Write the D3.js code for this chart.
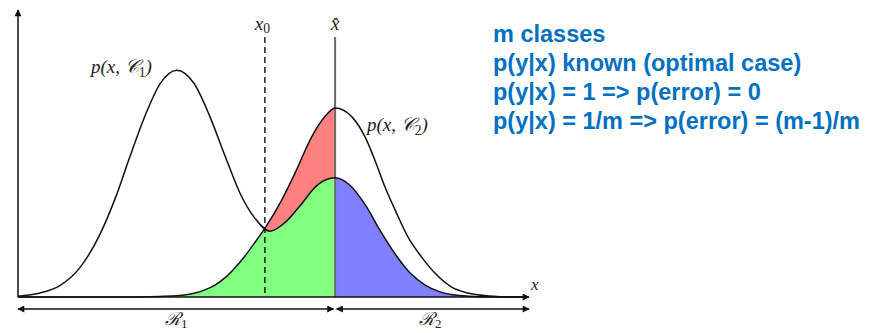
<!DOCTYPE html>
<html lang="en">
<head>
  <meta charset="UTF-8">
  <title>Decision regions</title>
  <script src="https://d3js.org/d3.v7.min.js"></script>
  <style>
    body { margin: 0; background: #fff; }
    .curve { fill: none; stroke: #111; stroke-width: 1.5; }
    .math { font-family: "Liberation Serif", "DejaVu Serif", serif; font-style: italic; fill: #222; }
    .note { font-family: "Liberation Sans", Arial, sans-serif; font-weight: bold; fill: #0070C0; font-size: 23.5px; }
  </style>
</head>
<body>
  <div id="chart"></div>
  <script>
    // p(x,C1) (x: 0-100, y: 0-100)
    const c1X = [0, 4.3, 8.3, 12.2, 16.1, 19.1, 22.0, 25.0, 27.9, 31.2, 34.6, 37.7, 40.7, 43.6, 46.6, 49.5, 52.5, 55.4, 58.9, 62.3, 65.2, 68.2, 71.1, 74.1, 77.0, 80.0, 82.9, 86.8, 90.8, 100];
    const c1Y = [0.3, 1.4, 4.1, 10.4, 22.0, 34.6, 49.3, 63.8, 74.8, 79.6, 74.9, 63.3, 49.4, 36.5, 27.5, 23.1, 26.2, 32.0, 39.4, 41.8, 39.2, 32.4, 23.5, 15.1, 8.5, 4.2, 1.8, 0.5, 0.1, 0];
    // p(x,C2)
    const c2X = [0, 20.0, 27.9, 31.8, 34.8, 36.7, 38.7, 40.7, 42.6, 44.6, 46.6, 48.5, 51.8, 54.4, 57.7, 60.3, 62.3, 65.6, 68.2, 70.1, 72.1, 74.1, 76.6, 79.3, 81.9, 85.2, 88.4, 92.7, 96.7, 100];
    const c2Y = [0, 0, 0.2, 0.5, 1.4, 2.5, 4.2, 6.8, 10.2, 14.4, 19.3, 24.1, 34.0, 43.4, 56.2, 63.3, 66.3, 63.2, 56.1, 48.1, 38.6, 30.5, 21.1, 14.0, 8.4, 3.5, 1.4, 0.35, 0, 0];
    const x0 = 48.5;
    const xHat = 62.3;
    const notes = [
      "m classes",
      "p(y|x) known (optimal case)",
      "p(y|x) = 1 => p(error) = 0",
      "p(y|x) = 1/m => p(error) = (m-1)/m"
    ];

    const width = 870, height = 333;
    const svg = d3.select("#chart").append("svg")
      .attr("width", width).attr("height", height);

    const x = d3.scaleLinear().domain([0, 100]).range([18, 527]);
    const y = d3.scaleLinear().domain([0, 100]).range([297, 12]);

    const c1 = c1X.map((d, i) => [d, c1Y[i]]);
    const c2 = c2X.map((d, i) => [d, c2Y[i]]);

    const defs = svg.append("defs");
    defs.append("marker")
      .attr("id", "arrow")
      .attr("viewBox", "0 0 10 10")
      .attr("refX", 9).attr("refY", 5)
      .attr("markerWidth", 9).attr("markerHeight", 7)
      .attr("markerUnits", "userSpaceOnUse")
      .attr("orient", "auto-start-reverse")
      .append("path").attr("d", "M0,0 L10,5 L0,10 Z").attr("fill", "#111");

    function clip(id, a, b) {
      defs.append("clipPath").attr("id", id)
        .append("rect")
        .attr("x", x(a)).attr("y", 0)
        .attr("width", x(b) - x(a)).attr("height", y(0));
    }
    clip("left", 0, x0);
    clip("mid", x0, xHat);
    clip("right", xHat, 100);

    const area = d3.area().x(d => x(d[0])).y0(y(0)).y1(d => y(d[1])).curve(d3.curveMonotoneX);
    const line = d3.line().x(d => x(d[0])).y(d => y(d[1])).curve(d3.curveMonotoneX);

    // filled regions
    svg.append("path").datum(c2).attr("d", area).attr("fill", "#ff8080").attr("clip-path", "url(#mid)");
    svg.append("path").datum(c2).attr("d", area).attr("fill", "#80ff80").attr("clip-path", "url(#left)");
    svg.append("path").datum(c1).attr("d", area).attr("fill", "#80ff80").attr("clip-path", "url(#mid)");
    svg.append("path").datum(c1).attr("d", area).attr("fill", "#8080ff").attr("clip-path", "url(#right)");

    // decision boundaries
    svg.append("line")
      .attr("x1", x(x0)).attr("x2", x(x0)).attr("y1", 37).attr("y2", y(0))
      .attr("stroke", "#111").attr("stroke-width", 1.4).attr("stroke-dasharray", "6,4");
    svg.append("line")
      .attr("x1", x(xHat)).attr("x2", x(xHat)).attr("y1", 37).attr("y2", y(0))
      .attr("stroke", "#6a6a6a").attr("stroke-width", 2);

    // curves
    svg.append("path").datum(c1).attr("class", "curve").attr("d", line);
    svg.append("path").datum(c2).attr("class", "curve").attr("d", line);

    // axes
    svg.append("line")
      .attr("x1", x(0)).attr("x2", x(0)).attr("y1", y(0)).attr("y2", 10)
      .attr("stroke", "#111").attr("stroke-width", 1.5).attr("marker-end", "url(#arrow)");
    svg.append("line")
      .attr("x1", x(0)).attr("x2", x(100) + 2).attr("y1", y(0)).attr("y2", y(0))
      .attr("stroke", "#111").attr("stroke-width", 1.5).attr("marker-end", "url(#arrow)");

    // region arrows
    const ry = 309;
    [[0, xHat - 0.3], [xHat + 0.3, 100]].forEach(r => {
      svg.append("line")
        .attr("x1", x(r[0])).attr("x2", x(r[1]) + (r[1] === 100 ? 2 : 0)).attr("y1", ry).attr("y2", ry)
        .attr("stroke", "#111").attr("stroke-width", 1.3)
        .attr("marker-start", "url(#arrow)").attr("marker-end", "url(#arrow)");
    });

    // math labels
    function mathLabel(tx, ty, base, sub, size, subDy) {
      const t = svg.append("text").attr("class", "math")
        .attr("x", tx).attr("y", ty).attr("font-size", size);
      t.append("tspan").text(base);
      if (sub) t.append("tspan").attr("dy", subDy || 4).attr("font-size", size * 0.72).attr("font-style", "normal").text(sub);
      return t;
    }
    mathLabel(91, 73, "p(x, 𝒞", "1", 19).append("tspan").attr("dy", -4).text(")");
    mathLabel(367, 131, "p(x, 𝒞", "2", 19).append("tspan").attr("dy", -4).text(")");
    mathLabel(x(x0) - 10, 30, "x", "0", 19, 3);
    svg.append("text").attr("class", "math").attr("x", x(xHat)).attr("y", 30)
      .attr("font-size", 19).attr("text-anchor", "middle").text("x̂");
    svg.append("text").attr("class", "math").attr("x", 531).attr("y", 290)
      .attr("font-size", 17).text("x");
    mathLabel(165, 325, "ℛ", "1", 18, 3);
    mathLabel(419, 325, "ℛ", "2", 18, 3);

    // notes on the right
    svg.selectAll(".note").data(notes).enter().append("text")
      .attr("class", "note")
      .attr("x", 493)
      .attr("y", (d, i) => 42 + i * 29)
      .text(d => d);
  </script>
</body>
</html>
